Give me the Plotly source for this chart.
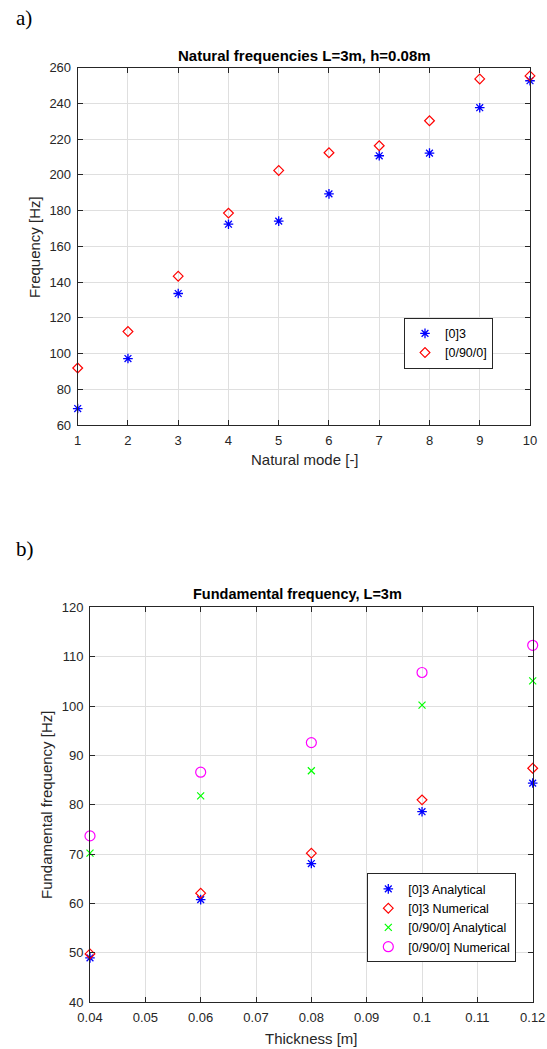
import plotly.graph_objects as go

# ---- data: chart a) ----
modes = [1, 2, 3, 4, 5, 6, 7, 8, 9, 10]
freq_03 = [69.2, 97.2, 133.6, 172.4, 174.1, 189.4, 210.7, 212.2, 237.6, 252.7]
freq_0900 = [91.9, 112.3, 143.3, 178.6, 202.5, 212.4, 216.3, 230.3, 253.7, 255.4]

# ---- data: chart b) ----
thickness = [0.04, 0.06, 0.08, 0.10, 0.12]
f03_analytical = [49.0, 60.8, 68.1, 78.6, 84.4]
f03_numerical = [49.8, 62.1, 70.2, 81.0, 87.4]
f0900_analytical = [70.2, 81.8, 86.9, 100.2, 105.1]
f0900_numerical = [73.7, 86.6, 92.6, 106.8, 112.3]

W, H = 547, 1049
AX = "#262626"
GRID = "#dfdfdf"
FONT = "Liberation Sans, Arial, sans-serif"

fig = go.Figure()

def star(name, x, y, xa, ya, lg):
    return go.Scatter(x=x, y=y, mode="markers", name=name, xaxis=xa, yaxis=ya, legend=lg,
                      cliponaxis=False,
                      marker=dict(symbol="asterisk-open", size=8, color="#0000ff",
                                  line=dict(color="#0000ff", width=1.3)))

def diamond(name, x, y, xa, ya, lg):
    return go.Scatter(x=x, y=y, mode="markers", name=name, xaxis=xa, yaxis=ya, legend=lg,
                      cliponaxis=False,
                      marker=dict(symbol="diamond-open", size=7.5, color="#ff0000",
                                  line=dict(color="#ff0000", width=1.2)))

fig.add_trace(star("[0]3", modes, freq_03, "x", "y", "legend"))
fig.add_trace(diamond("[0/90/0]", modes, freq_0900, "x", "y", "legend"))

fig.add_trace(star("[0]3 Analytical", thickness, f03_analytical, "x2", "y2", "legend2"))
fig.add_trace(diamond("[0]3 Numerical", thickness, f03_numerical, "x2", "y2", "legend2"))
fig.add_trace(go.Scatter(x=thickness, y=f0900_analytical, mode="markers", name="[0/90/0] Analytical",
                         xaxis="x2", yaxis="y2", legend="legend2", cliponaxis=False,
                         marker=dict(symbol="x-thin-open", size=7, color="#00ff00",
                                     line=dict(color="#00ff00", width=1.2))))
fig.add_trace(go.Scatter(x=thickness, y=f0900_numerical, mode="markers", name="[0/90/0] Numerical",
                         xaxis="x2", yaxis="y2", legend="legend2", cliponaxis=False,
                         marker=dict(symbol="circle-open", size=10, color="#ff00ff",
                                     line=dict(color="#ff00ff", width=1.2))))

def px_x(p):
    return p / W

def px_y(p):
    return 1 - p / H

axis_common = dict(showline=True, linecolor=AX, linewidth=1, mirror="ticks", ticks="inside",
                   ticklen=5, tickcolor=AX, showgrid=True, gridcolor=GRID, gridwidth=1,
                   zeroline=False, automargin=False, ticklabelstandoff=3,
                   tickfont=dict(family=FONT, size=13, color=AX))

fig.update_layout(
    width=W, height=H, margin=dict(l=0, r=0, t=0, b=0, autoexpand=False),
    paper_bgcolor="white", plot_bgcolor="white",
    font=dict(family=FONT, color=AX),
    xaxis=dict(domain=[px_x(77.7), px_x(530)], range=[1, 10], tick0=1, dtick=1, anchor="y", **axis_common),
    yaxis=dict(domain=[px_y(425), px_y(67.7)], range=[60, 260], dtick=20, anchor="x", **axis_common),
    xaxis2=dict(domain=[px_x(90), px_x(532.7)], range=[0.04, 0.12], tick0=0.04, dtick=0.01, anchor="y2", **axis_common),
    yaxis2=dict(domain=[px_y(1002.3), px_y(607.3)], range=[40, 120], dtick=10, anchor="x2", **axis_common),
    legend=dict(x=px_x(404), y=px_y(317.7), xanchor="left", yanchor="top",
                bgcolor="white", bordercolor=AX, borderwidth=1,
                font=dict(family=FONT, size=12.5, color="black"), itemwidth=30, tracegroupgap=0),
    legend2=dict(x=px_x(367.3), y=px_y(873.3), xanchor="left", yanchor="top",
                 bgcolor="white", bordercolor=AX, borderwidth=1,
                 font=dict(family=FONT, size=12.5, color="black"), itemwidth=30, tracegroupgap=0),
    showlegend=True,
)

ann = [
    dict(text="a)", x=px_x(14), y=px_y(18), xanchor="left", yanchor="middle",
         font=dict(family="Liberation Serif, Times New Roman, serif", size=21, color="black")),
    dict(text="b)", x=px_x(14), y=px_y(549), xanchor="left", yanchor="middle",
         font=dict(family="Liberation Serif, Times New Roman, serif", size=21, color="black")),
    dict(text="<b>Natural frequencies L=3m, h=0.08m</b>", x=px_x(304), y=px_y(56),
         xanchor="center", yanchor="middle", font=dict(family=FONT, size=15, color="black")),
    dict(text="<b>Fundamental frequency, L=3m</b>", x=px_x(297), y=px_y(594),
         xanchor="center", yanchor="middle", font=dict(family=FONT, size=14.5, color="black")),
    dict(text="Natural mode [-]", x=px_x(305), y=px_y(459), xanchor="center", yanchor="middle",
         font=dict(family=FONT, size=15, color=AX)),
    dict(text="Frequency [Hz]", x=px_x(35), y=px_y(247), xanchor="center", yanchor="middle",
         textangle=-90, font=dict(family=FONT, size=15, color=AX)),
    dict(text="Thickness [m]", x=px_x(311), y=px_y(1038.5), xanchor="center", yanchor="middle",
         font=dict(family=FONT, size=15, color=AX)),
    dict(text="Fundamental frequency [Hz]", x=px_x(46), y=px_y(805), xanchor="center", yanchor="middle",
         textangle=-90, font=dict(family=FONT, size=15, color=AX)),
]
for a in ann:
    a.update(xref="paper", yref="paper", showarrow=False)
fig.update_layout(annotations=ann)

fig.write_html("out.html")
